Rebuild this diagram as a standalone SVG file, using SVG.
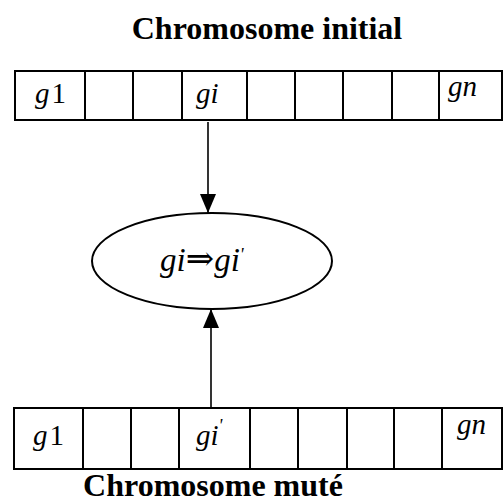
<svg xmlns="http://www.w3.org/2000/svg" width="503" height="503" viewBox="0 0 503 503">
<style>
.title{font-family:"Liberation Serif","Times New Roman",serif;font-weight:bold;font-size:32px;fill:#000}
.cell{fill:#fff;stroke:#000;stroke-width:2}
.sep{stroke:#000;stroke-width:2}
.lbl{font-family:"Liberation Serif","Times New Roman",serif;font-style:italic;font-size:29px;fill:#000}
.num{font-style:normal}
.conn{stroke:#000;stroke-width:1.6;fill:none}
</style>
<defs>
<marker id="ah" markerWidth="20" markerHeight="16" refX="19" refY="8" orient="auto" markerUnits="userSpaceOnUse" viewBox="0 0 20 16">
<path d="M0,0 L19,8 L0,16 Z" fill="#000"/>
</marker>
</defs>
<text class="title" x="267" y="39" text-anchor="middle">Chromosome initial</text>
<g id="chromosome-initial">
<rect class="cell" x="15" y="71" width="487" height="49"/>
<path class="sep" d="M85,71V120M133,71V120M182,71V120M247,71V120M295,71V120M343,71V120M392,71V120M439,71V120"/>
<text class="lbl" x="35" y="103">g<tspan class="num" dx="2">1</tspan></text>
<text class="lbl" x="196" y="103">gi</text>
<text class="lbl" x="448" y="96">gn</text>
</g>
<g id="mutation">
<ellipse cx="212" cy="261" rx="120" ry="48" fill="#fff" stroke="#000" stroke-width="2"/>
<text class="lbl" x="160" y="271" style="font-size:33px">gi<tspan style="font-style:normal;font-family:'DejaVu Serif',serif;font-size:34px" dy="-1">⇒</tspan><tspan dy="1">gi</tspan><tspan style="font-size:18px" dy="-10">'</tspan></text>
</g>
<g id="chromosome-mute">
<rect class="cell" x="14" y="408" width="488" height="61"/>
<path class="sep" d="M83,408V469M131,408V469M179,408V469M250,408V469M298,408V469M347,408V469M394,408V469M442,408V469"/>
<text class="lbl" x="33" y="445">g<tspan class="num" dx="2">1</tspan></text>
<text class="lbl" x="196" y="445">gi<tspan style="font-size:18px" dy="-13">'</tspan></text>
<text class="lbl" x="457" y="434">gn</text>
</g>
<text class="title" x="213" y="496" text-anchor="middle">Chromosome muté</text>
<g id="connectors">
<line class="conn" x1="208" y1="122" x2="208" y2="213" marker-end="url(#ah)"/>
<line class="conn" x1="211" y1="408" x2="211" y2="309" marker-end="url(#ah)"/>
</g>
</svg>
